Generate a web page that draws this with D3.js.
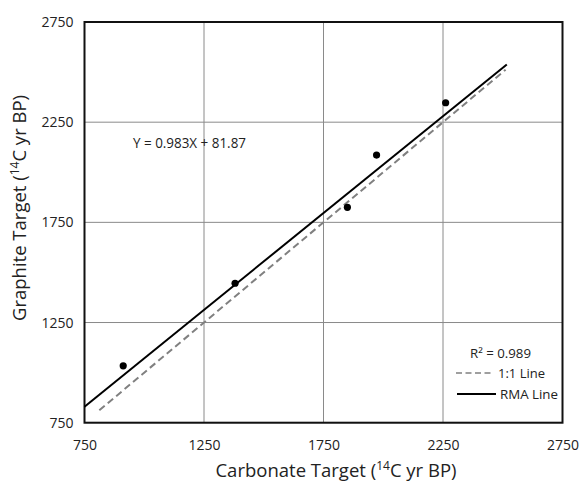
<!DOCTYPE html>
<html><head><meta charset="utf-8">
<script src="https://cdn.jsdelivr.net/npm/d3@7/dist/d3.min.js"></script>
<style>
html,body{margin:0;padding:0;background:#fff;}
svg{display:block;}
text{font-family:"Open Sans",sans-serif;fill:#222;}
</style></head>
<body><svg id="c" width="582" height="483"></svg>
<script>
const carbonate = [912, 1380, 1850, 1972, 2261];
const graphite  = [1034, 1446, 1825, 2086, 2347];
const tickValues = [750, 1250, 1750, 2250, 2750];
const oneToOneX = [812, 2512];
const oneToOneY = [812, 2512];
const rmaX = [750, 2517];
const rmaY = [830, 2538];
const equationLabel = "Y = 0.983X + 81.87";
const r2Label = "R² = 0.989";
const legendLabels = ["1:1 Line", "RMA Line"];

const svg = d3.select("#c");
const m = {l:84.5, r:562.5, t:22, b:422.7};
const x = d3.scaleLinear().domain([750,2750]).range([m.l,m.r]);
const y = d3.scaleLinear().domain([750,2750]).range([m.b,m.t]);
const fmt = d3.format("d");

// grid
const g = svg.append("g");
g.selectAll("line.vx").data(tickValues).join("line")
  .attr("x1",d=>x(d)).attr("x2",d=>x(d)).attr("y1",m.t).attr("y2",m.b)
  .attr("stroke","#8a8a8a").attr("stroke-width",1);
g.selectAll("line.hy").data(tickValues).join("line")
  .attr("y1",d=>y(d)).attr("y2",d=>y(d)).attr("x1",m.l).attr("x2",m.r)
  .attr("stroke","#8a8a8a").attr("stroke-width",1);

// axes labels via d3 axis
const xa = svg.append("g").attr("transform",`translate(0,${m.b})`)
  .call(d3.axisBottom(x).tickValues(tickValues).tickFormat(fmt).tickSize(0).tickPadding(17));
xa.select(".domain").remove();
xa.selectAll("text").style("font-family","'Open Sans',sans-serif").style("font-size","14px").attr("fill","#222");
const ya = svg.append("g").attr("transform",`translate(${m.l},0)`)
  .call(d3.axisLeft(y).tickValues(tickValues).tickFormat(fmt).tickSize(0).tickPadding(11));
ya.select(".domain").remove();
ya.selectAll("text").style("font-family","'Open Sans',sans-serif").style("font-size","14px").attr("fill","#222");

// frame
svg.append("rect").attr("x",m.l).attr("y",m.t).attr("width",m.r-m.l).attr("height",m.b-m.t)
  .attr("fill","none").attr("stroke","#111").attr("stroke-width",2);

// lines
const line = d3.line().x(d=>x(d[0])).y(d=>y(d[1]));
svg.append("path").datum(d3.zip(oneToOneX, oneToOneY)).attr("d",line)
  .attr("fill","none").attr("stroke","#808080").attr("stroke-width",2).attr("stroke-dasharray","7,4");
svg.append("path").datum(d3.zip(rmaX, rmaY)).attr("d",line)
  .attr("fill","none").attr("stroke","#000").attr("stroke-width",2);

// points
svg.selectAll("circle").data(d3.zip(carbonate, graphite)).join("circle")
  .attr("cx",d=>x(d[0])).attr("cy",d=>y(d[1])).attr("r",3.6).attr("fill","#000");

// equation
svg.append("text").attr("x",133).attr("y",148).style("font-size","14px")
  .attr("textLength",113).attr("lengthAdjust","spacingAndGlyphs").text(equationLabel);

// legend
svg.append("text").attr("x",470).attr("y",358).style("font-size","13px")
  .attr("textLength",61).attr("lengthAdjust","spacingAndGlyphs").text(r2Label);
svg.append("line").attr("x1",456).attr("x2",494).attr("y1",373).attr("y2",373)
  .attr("stroke","#808080").attr("stroke-width",1.5).attr("stroke-dasharray","6,3.5");
svg.append("text").attr("x",498).attr("y",378).style("font-size","13px")
  .attr("textLength",47).attr("lengthAdjust","spacingAndGlyphs").text(legendLabels[0]);
svg.append("line").attr("x1",457).attr("x2",496).attr("y1",394).attr("y2",394)
  .attr("stroke","#000").attr("stroke-width",2);
svg.append("text").attr("x",500).attr("y",399).style("font-size","13px")
  .attr("textLength",58).attr("lengthAdjust","spacingAndGlyphs").text(legendLabels[1]);

// axis titles
const xt = svg.append("text").attr("x",336).attr("y",477).attr("text-anchor","middle").style("font-size","18.5px");
xt.append("tspan").text("Carbonate Target (");
xt.append("tspan").attr("dy",-7).style("font-size","12px").text("14");
xt.append("tspan").attr("dy",7).text("C yr BP)");
const yt = svg.append("text").attr("transform","translate(26,208) rotate(-90)").attr("text-anchor","middle").style("font-size","18.5px");
yt.append("tspan").text("Graphite Target (");
yt.append("tspan").attr("dy",-7).style("font-size","12px").text("14");
yt.append("tspan").attr("dy",7).text("C yr BP)");
</script></body></html>
